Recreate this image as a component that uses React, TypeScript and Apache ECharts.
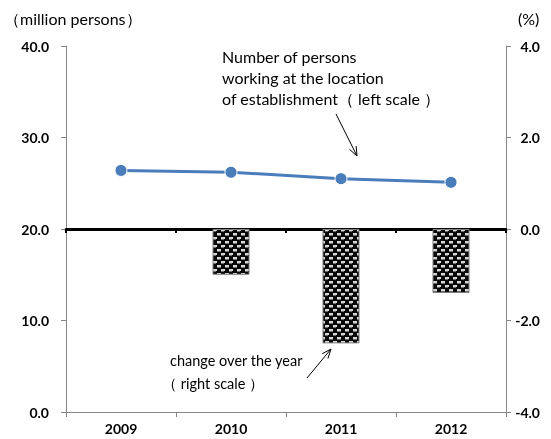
import React, { useEffect, useRef } from "react";
import * as echarts from "echarts";

const years = ["2009", "2010", "2011", "2012"];
const personsMillions = [26.4, 26.2, 25.5, 25.1];
const changePct: (number | null)[] = [null, -1.0, -2.5, -1.4];

const FONT = "Lato, 'Noto Sans', sans-serif";

function makePattern(): HTMLCanvasElement {
  const c = document.createElement("canvas");
  c.width = 8;
  c.height = 8;
  const g = c.getContext("2d")!;
  g.fillStyle = "#0a0a0a";
  g.fillRect(0, 0, 8, 8);
  g.fillStyle = "#d6d6d6";
  g.fillRect(1, 1, 4, 2);
  g.fillRect(5, 5, 3, 2);
  g.fillRect(0, 5, 1, 2);
  g.fillStyle = "#6a6a6a";
  g.fillRect(1, 3, 4, 1);
  g.fillRect(5, 7, 3, 1);
  return c;
}

function arrow(x1: number, y1: number, x2: number, y2: number) {
  const ang = Math.atan2(y2 - y1, x2 - x1);
  const L = 10, a = 0.38;
  const p1 = [x2 - L * Math.cos(ang - a), y2 - L * Math.sin(ang - a)];
  const p2 = [x2 - L * Math.cos(ang + a), y2 - L * Math.sin(ang + a)];
  return [
    { type: "line", shape: { x1, y1, x2, y2 }, style: { stroke: "#000", lineWidth: 1 } },
    { type: "polyline", shape: { points: [p1, [x2, y2], p2] }, style: { stroke: "#000", fill: null, lineWidth: 1 } },
  ];
}

function txt(text: string, x: number, y: number, size = 16) {
  return {
    type: "text",
    x,
    y,
    style: { text, fill: "#000", font: `${size}px ${FONT}`, verticalAlign: "middle", align: "left" },
  };
}

export default function App() {
  const ref = useRef<HTMLDivElement>(null);
  useEffect(() => {
    if (!ref.current) return;
    const chart = echarts.init(ref.current, null, { renderer: "svg" });
    const gray = "#868686";
    const axisLabelStyle = { fontWeight: "bold", color: "#000", fontSize: 14, fontFamily: FONT };
    chart.setOption({
      animation: false,
      grid: { left: 66, right: 45, top: 46, bottom: 27, containLabel: false },
      xAxis: [
        {
          type: "category",
          data: years,
          position: "bottom",
          axisLine: { onZero: false, lineStyle: { color: gray, width: 1 } },
          axisTick: { show: true, length: 5, lineStyle: { color: gray } },
          axisLabel: { ...axisLabelStyle, margin: 9 },
          splitLine: { show: false },
        },
        {
          type: "category",
          data: years,
          position: "top",
          axisLine: { show: true, onZero: true, onZeroAxisIndex: 1, lineStyle: { color: "#000", width: 3 } },
          axisTick: { show: true, inside: true, length: 4, lineStyle: { color: "#000", width: 2 } },
          axisLabel: { show: false },
          splitLine: { show: false },
        },
      ],
      yAxis: [
        {
          type: "value",
          min: 0,
          max: 40,
          interval: 10,
          position: "left",
          axisLine: { show: true, onZero: false, lineStyle: { color: gray } },
          axisTick: { show: true, length: 5, lineStyle: { color: gray } },
          splitLine: { show: false },
          axisLabel: { ...axisLabelStyle, margin: 17, formatter: (v: number) => v.toFixed(1) },
        },
        {
          type: "value",
          min: -4,
          max: 4,
          interval: 2,
          position: "right",
          axisLine: { show: true, onZero: false, lineStyle: { color: gray } },
          axisTick: { show: true, length: 5, lineStyle: { color: gray } },
          splitLine: { show: false },
          axisLabel: { ...axisLabelStyle, margin: 34, align: "right", formatter: (v: number) => v.toFixed(1) },
        },
      ],
      series: [
        {
          type: "bar",
          xAxisIndex: 1,
          yAxisIndex: 1,
          data: changePct,
          barWidth: 37,
          itemStyle: {
            color: { image: makePattern(), repeat: "repeat" },
            borderColor: "#7f7f7f",
            borderWidth: 1,
          },
          z: 1,
        },
        {
          type: "line",
          xAxisIndex: 1,
          yAxisIndex: 0,
          data: personsMillions,
          symbol: "circle",
          symbolSize: 12,
          lineStyle: { color: "#4a7ebb", width: 3 },
          itemStyle: { color: "#4a7ebb", borderColor: "#ffffff", borderWidth: 1 },
          z: 3,
        },
      ],
      graphic: [
        txt("（million persons）", 4, 18, 16),
        txt("(%)", 518, 18, 16),
        txt("Number of persons", 222, 56),
        txt("working at the location", 222, 77),
        txt("of establishment（ left scale ）", 222, 98),
        ...arrow(336, 114, 357, 156),
        txt("change over the year", 170, 360, 14.5),
        txt("（ right scale ）", 162, 383, 14.5),
        ...arrow(307, 378, 331, 349),
      ],
    });
    return () => chart.dispose();
  }, []);
  return <div ref={ref} style={{ position: "fixed", left: 0, top: 0, width: 551, height: 439 }} />;
}
